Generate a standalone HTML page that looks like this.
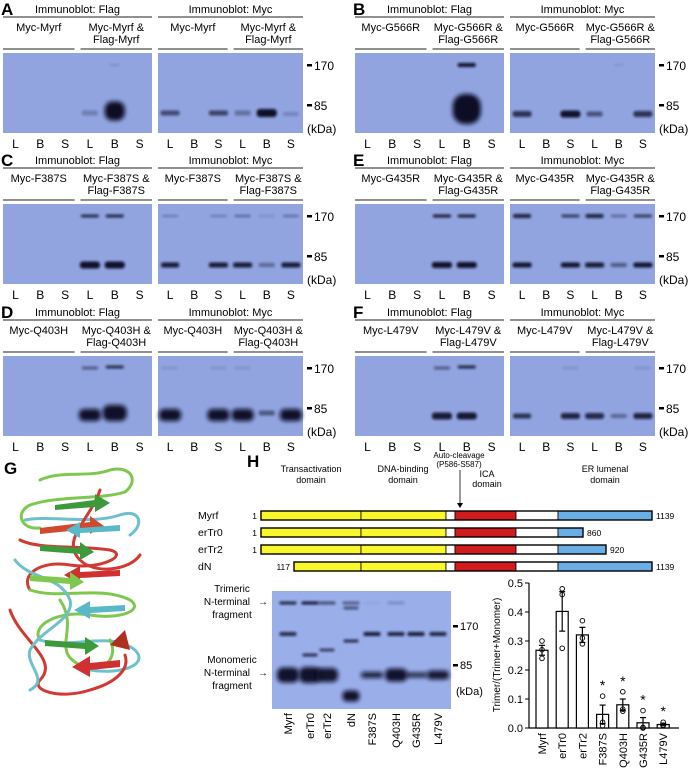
<!DOCTYPE html>
<html><head><meta charset="utf-8"><style>
html,body{margin:0;padding:0;background:#fff}
svg{display:block;font-family:"Liberation Sans",Arial,sans-serif}
</style></head><body>
<svg id="fig" width="697" height="775" viewBox="0 0 697 775" xmlns="http://www.w3.org/2000/svg">
<defs>
<filter id="bl" x="-50%" y="-100%" width="200%" height="300%"><feGaussianBlur stdDeviation="1.2"/></filter>
<filter id="bl2" x="-50%" y="-100%" width="200%" height="300%"><feGaussianBlur stdDeviation="2"/></filter>
</defs>
<g id="blots"></g>

<!-- Panel G protein -->
<g id="protein" fill="none" stroke-width="3" stroke-linecap="round">
<text x="4" y="474" font-size="17" font-weight="bold" fill="#000" stroke="none">G</text>
<path d="M40 480 C60 470 90 478 110 470 C130 465 140 480 125 492 C100 500 60 495 30 505 C15 512 20 530 40 528" stroke="#7ec850"/>
<path d="M25 520 C50 515 90 525 120 515 C140 508 145 525 130 535" stroke="#6ec0cc"/>
<path d="M20 540 C40 550 80 545 110 550 C130 555 100 570 70 565 C40 560 20 575 30 590" stroke="#d03a30"/>
<path d="M30 590 C60 600 100 585 130 600 C145 610 120 620 90 615 C60 610 30 625 40 640" stroke="#7ec850"/>
<path d="M40 640 C70 650 110 630 135 650 C150 665 120 675 90 670" stroke="#6ec0cc"/>
<path d="M10 610 C20 640 60 660 40 680 C30 690 60 700 90 690 C115 683 130 670 125 655" stroke="#d03a30"/>
<path d="M60 600 C80 630 50 650 80 665 C100 675 120 660 110 640" stroke="#7ec850"/>
<path d="M100 490 C90 520 60 540 80 560 C95 575 130 570 140 555" stroke="#d03a30"/>
<path d="M15 560 C30 580 60 575 70 600 C75 620 40 630 30 650 C25 665 50 680 30 690" stroke="#6ec0cc"/>
<g stroke="none">
<polygon points="55,505 95,500 95,494 110,503 95,512 95,507 55,510" fill="#3c9a3c"/>
<polygon points="40,528 90,522 90,516 104,526 90,534 90,529 40,534" fill="#d04a30"/>
<polygon points="120,525 80,528 80,522 66,530 80,538 80,533 120,531" fill="#5ab8c8"/>
<polygon points="40,545 80,548 80,542 94,552 80,560 80,554 40,551" fill="#3c9a3c"/>
<polygon points="120,570 80,572 80,566 64,575 80,584 80,578 120,576" fill="#d03030"/>
<polygon points="30,575 70,578 70,572 84,582 70,590 70,584 30,581" fill="#7ec850"/>
<polygon points="125,605 90,607 90,601 74,610 90,619 90,613 125,611" fill="#5ab8c8"/>
<polygon points="45,640 85,643 85,637 99,646 85,655 85,649 45,646" fill="#3c9a3c"/>
<polygon points="120,660 90,663 90,656 72,667 90,677 90,670 120,667" fill="#d03030"/>
<polygon points="110,645 125,630 130,650" fill="#b03020"/>
</g>
</g>

<!-- Panel H schematic -->
<g font-size="9" fill="#000">
<text x="247" y="467" font-size="17" font-weight="bold">H</text>
<text x="311" y="472" text-anchor="middle">Transactivation</text>
<text x="311" y="483" text-anchor="middle">domain</text>
<text x="403" y="472" text-anchor="middle">DNA-binding</text>
<text x="403" y="483" text-anchor="middle">domain</text>
<text x="459" y="458" text-anchor="middle" font-size="8">Auto-cleavage</text>
<text x="459" y="467" text-anchor="middle" font-size="8">(P586-S587)</text>
<text x="487" y="477" text-anchor="middle">ICA</text>
<text x="487" y="487" text-anchor="middle">domain</text>
<text x="605" y="472" text-anchor="middle">ER lumenal</text>
<text x="605" y="483" text-anchor="middle">domain</text>
<line x1="460" y1="470" x2="460" y2="506" stroke="#000" stroke-width="0.8"/>
<polygon points="457,503 463,503 460,508" fill="#000"/>
</g>
<g id="schem"></g>

<!-- H blot -->
<g font-size="10" fill="#000">
<text x="232" y="592" text-anchor="middle">Trimeric</text>
<text x="250" y="605" text-anchor="end">N-terminal</text>
<text x="258" y="605">→</text>
<text x="232" y="618" text-anchor="middle">fragment</text>
<text x="232" y="663" text-anchor="middle">Monomeric</text>
<text x="250" y="676" text-anchor="end">N-terminal</text>
<text x="258" y="676">→</text>
<text x="232" y="689" text-anchor="middle">fragment</text>
</g>
<g id="hblot"></g>

<!-- Bar chart -->
<g id="chart"></g>

<script>
var NS="http://www.w3.org/2000/svg";
function el(tag,attrs,parent,text){var e=document.createElementNS(NS,tag);for(var k in attrs)e.setAttribute(k,attrs[k]);if(text!==undefined)e.textContent=text;parent.appendChild(e);return e;}

/* ---------- Bar chart data ---------- */
var categories=["Myrf","erTr0","erTr2","F387S","Q403H","G435R","L479V"];
var means=[0.268,0.402,0.321,0.047,0.080,0.018,0.012];
var errs=[0.017,0.068,0.026,0.032,0.020,0.018,0.004];
var pts1=[0.300,0.480,0.370,0.110,0.125,0.060,0.020];
var pts2=[0.270,0.460,0.310,0.020,0.065,0.002,0.010];
var pts3=[0.240,0.275,0.290,0.008,0.058,0.000,0.008];
var sig=[false,false,false,true,true,true,true];
var yTicks=["0.0","0.1","0.2","0.3","0.4","0.5"];

var chart=document.getElementById('chart');
var X0=529,Y0=728,Y1=583,YMAX=0.5;
function yS(v){return Y0-(v/YMAX)*(Y0-Y1);}
function xS(i){return 542+i*20.2;}
var ax=el('line',{x1:X0,y1:Y0,x2:679,y2:Y0,stroke:'#000','stroke-width':1.2},chart);


var ay=el('line',{x1:X0,y1:Y1,x2:X0,y2:Y0,stroke:'#000','stroke-width':1.2},chart);


yTicks.forEach(function(t){var v=parseFloat(t);
 el('line',{x1:X0-4,y1:yS(v),x2:X0,y2:yS(v),stroke:'#000','stroke-width':1},chart);
 var tl=el('text',{x:X0-6,y:yS(v)+4,'text-anchor':'end','font-size':11},chart,t);
 
 
});
var yt=el('text',{x:0,y:0,'font-size':10,'text-anchor':'middle',transform:'translate(500,655) rotate(-90)'},chart,'Trimer/(Trimer+Monomer)');


categories.forEach(function(c,i){
 var cx=xS(i);
 var b=el('rect',{x:cx-6,y:yS(means[i]),width:12,height:Y0-yS(means[i]),fill:'#fff',stroke:'#000','stroke-width':1.2},chart);
 
 
 el('line',{x1:cx,y1:yS(means[i]+errs[i]),x2:cx,y2:yS(means[i]-errs[i]),stroke:'#000','stroke-width':1.2},chart);
 el('line',{x1:cx-3,y1:yS(means[i]+errs[i]),x2:cx+3,y2:yS(means[i]+errs[i]),stroke:'#000','stroke-width':1.2},chart);
 el('line',{x1:cx-3,y1:yS(means[i]-errs[i]),x2:cx+3,y2:yS(means[i]-errs[i]),stroke:'#000','stroke-width':1.2},chart);
 [pts1[i],pts2[i],pts3[i]].forEach(function(p){
  var d=el('circle',{cx:cx,cy:yS(p),r:2.3,fill:'none',stroke:'#000','stroke-width':0.9},chart);
  
  
 });
 if(sig[i]){var top=Math.max(pts1[i],means[i]+errs[i]);
  var s=el('text',{x:cx,y:yS(top)-6,'text-anchor':'middle','font-size':14},chart,'*');
  
  }
 var l=el('text',{x:0,y:0,'font-size':11,'text-anchor':'end',transform:'translate('+(cx+4)+','+(Y0+5)+') rotate(-90)'},chart,c);
 
 
});

/* ---------- Schematic ---------- */
var schem=document.getElementById('schem');
var constructs=["Myrf","erTr0","erTr2","dN"];
var cStart=[1,1,1,117];
var cEnd=[1139,860,920,1139];
var segs=['#f8f82a','#f8f82a','#fff','#d01c1c','#fff','#6aaee6'];
var segX=[261,361,446,455,516,558,652];
constructs.forEach(function(c,i){
 var y=511+i*17;
 var t=el('text',{x:198,y:y+8,'font-size':10.5},schem,c);
 
 
 var xs=(i==3)?294:261, xe=(cEnd[i]==1139)?652:(cEnd[i]==860?583:606);
 var g=el('g',{},schem);
 
 
 for(var k=0;k<6;k++){var a=Math.max(segX[k],xs),b=Math.min(segX[k+1],xe);if(b>a)el('rect',{x:a,y:y,width:b-a,height:9,fill:segs[k],stroke:'#000','stroke-width':0.8},g);}
 el('rect',{x:xs,y:y,width:xe-xs,height:9,fill:'none',stroke:'#000','stroke-width':1.4},g);
 el('text',{x:xs-4,y:y+8,'font-size':8.5,'text-anchor':'end'},schem,String(cStart[i]));
 el('text',{x:xe+4,y:y+8,'font-size':8.5},schem,String(cEnd[i]));
});

/* ---------- Blot helpers ---------- */
function drawBand(g,cx,cy,w,h,op,big){
 el('rect',{x:cx-w/2,y:cy-h/2,width:w,height:h,rx:h/2.5,fill:'#080c26',opacity:op,filter:big?'url(#bl2)':'url(#bl)'},g);
}
/* H blot */
var hb=document.getElementById('hblot');
var hLanes=["Myrf","erTr0","erTr2","dN","F387S","Q403H","G435R","L479V"];
var hLaneX=[288,310,327,351,372,396,416,438];
var hTri=[0.85,0.95,0.6,0.5,0.05,0.2,0,0];
var h170=[0.8,0,0,0,0.9,0.85,0.9,0.85];
var hMono=[0.97,0.97,0.95,0,0.9,0.97,0.85,0.93];
var hMonoH=[15,16,14,0,6,13,5,9];
var hg=el('g',{},hb);


el('rect',{x:272,y:591,width:179,height:118,fill:'#9aaeea'},hg);
hLanes.forEach(function(n,i){var cx=hLaneX[i];
 if(hTri[i])drawBand(hg,cx,603,17,3,hTri[i]);
 if(h170[i])drawBand(hg,cx,634,17,4,h170[i]);
 if(hMono[i])drawBand(hg,cx,675,22,hMonoH[i],hMono[i],true);
 var l=el('text',{x:0,y:0,'font-size':11,'text-anchor':'end',transform:'translate('+(cx+4)+',713) rotate(-90)'},hb,n);
 
 
});
drawBand(hg,310,655,15,3,0.8);drawBand(hg,327,650,15,3,0.7);
drawBand(hg,351,608,15,3,0.6);drawBand(hg,351,641,15,3,0.8);
drawBand(hg,351,696,17,11,0.97,true);
[[626,'170'],[665,'85']].forEach(function(m){el('rect',{x:453,y:m[0]-1,width:5,height:2.5,fill:'#000'},hb);el('text',{x:460,y:m[0]+4,'font-size':11},hb,m[1]);});
el('text',{x:456,y:695,'font-size':11},hb,'(kDa)');

/* panels A-F */
var panels=[
 {L:'A',name:'Myrf',dx:0,dy:0,flag:[[3,60,0.25,16,5],[4,58,1,20,19],[4,12,0.15,10,2]],myc:[[0,60,0.6,19,5],[2,60,0.65,19,5],[3,60,0.35,16,5],[4,60,0.98,20,8],[5,61,0.2,16,4]]},
 {L:'B',name:'G566R',dx:352,dy:0,flag:[[4,12,0.95,18,4],[4,56,1,28,30]],myc:[[0,61,0.75,19,6],[2,61,0.97,20,7],[3,61,0.55,16,5],[5,61,0.75,19,6],[4,12,0.1,10,2]]},
 {L:'C',name:'F387S',dx:0,dy:151,flag:[[3,12,0.8,18,3],[4,12,0.85,18,3],[3,61,0.97,20,7],[4,61,0.97,20,7]],myc:[[0,12,0.3,16,2],[2,12,0.3,16,2],[3,12,0.45,16,2],[4,12,0.15,16,2],[5,12,0.4,16,2],[0,61,0.9,18,5],[2,61,0.9,19,5],[3,61,0.9,19,5],[4,61,0.4,16,4],[5,61,0.9,19,5]]},
 {L:'E',name:'G435R',dx:352,dy:151,flag:[[3,12,0.9,18,3],[4,12,0.9,18,3],[3,61,0.97,20,6],[4,61,0.97,20,6]],myc:[[0,12,0.85,18,4],[2,12,0.7,18,3],[3,12,0.85,18,4],[4,12,0.35,16,3],[5,12,0.7,18,3],[0,61,0.95,19,5],[2,61,0.95,19,5],[3,61,0.9,19,5],[4,61,0.5,16,4],[5,61,0.95,19,5]]},
 {L:'D',name:'Q403H',dx:0,dy:303,flag:[[3,12,0.5,16,3],[4,11,0.8,18,3],[3,59,0.98,22,12],[4,57,0.98,24,16]],myc:[[0,12,0.15,16,2],[2,12,0.15,16,2],[3,12,0.15,16,2],[0,59,0.98,22,12],[2,59,0.98,22,12],[3,59,0.98,22,12],[4,57,0.5,16,5],[5,59,0.98,22,12]]},
 {L:'F',name:'L479V',dx:352,dy:303,flag:[[3,12,0.5,16,3],[4,11,0.85,18,3],[3,60,0.9,20,7],[4,60,0.92,20,7]],myc:[[2,12,0.15,16,2],[5,12,0.15,16,2],[0,60,0.75,18,5],[2,60,0.85,19,6],[3,60,0.8,19,6],[4,60,0.4,16,4],[5,60,0.85,19,6]]}
];
var blots=document.getElementById('blots');
panels.forEach(function(p){
 var g=el('g',{transform:'translate('+p.dx+','+p.dy+')'},blots);
 
 
 el('text',{x:1,y:15,'font-size':17,'font-weight':'bold'},g,p.L);
 var halves=[{x0:3,w:149,ab:'Flag',bands:p.flag},{x0:158,w:145,ab:'Myc',bands:p.myc}];
 halves.forEach(function(h){
  var cx=h.x0+h.w/2;
  var t=el('text',{x:cx,y:13,'font-size':11,'text-anchor':'middle'},g,'Immunoblot: '+h.ab);
  
  
  el('line',{x1:h.x0,y1:17,x2:h.x0+h.w,y2:17,stroke:'#222','stroke-width':1},g);
  var mid=h.x0+h.w*0.48;
  el('text',{x:(h.x0+mid)/2,y:31,'font-size':11,'text-anchor':'middle'},g,'Myc-'+p.name);
  el('text',{x:(mid+6+h.x0+h.w)/2,y:31,'font-size':11,'text-anchor':'middle'},g,'Myc-'+p.name+' &');
  el('text',{x:(mid+6+h.x0+h.w)/2,y:43,'font-size':11,'text-anchor':'middle'},g,'Flag-'+p.name);
  el('line',{x1:h.x0,y1:49,x2:mid,y2:49,stroke:'#222','stroke-width':1},g);
  el('line',{x1:mid+6,y1:49,x2:h.x0+h.w,y2:49,stroke:'#222','stroke-width':1},g);
  var bg=el('g',{},g);
  
  
  el('rect',{x:h.x0,y:53,width:h.w,height:80,fill:'#91a4e0'},bg);
  var lw=h.w/6;
  h.bands.forEach(function(b){drawBand(bg,h.x0+lw*(b[0]+0.5),53+b[1],b[3],b[4],b[2],b[4]>10);});
  ['L','B','S','L','B','S'].forEach(function(s,i){
   var lt=el('text',{x:h.x0+lw*(i+0.5),y:148,'font-size':12,'text-anchor':'middle'},g,s);
   
   
  });
 });
 el('rect',{x:307,y:64,width:5,height:2.5,fill:'#000'},g);
 el('text',{x:314,y:70,'font-size':12},g,'170');
 el('rect',{x:307,y:104,width:5,height:2.5,fill:'#000'},g);
 el('text',{x:314,y:110,'font-size':12},g,'85');
 el('text',{x:307,y:133,'font-size':12},g,'(kDa)');
});
</script>
</svg>
</body></html>
